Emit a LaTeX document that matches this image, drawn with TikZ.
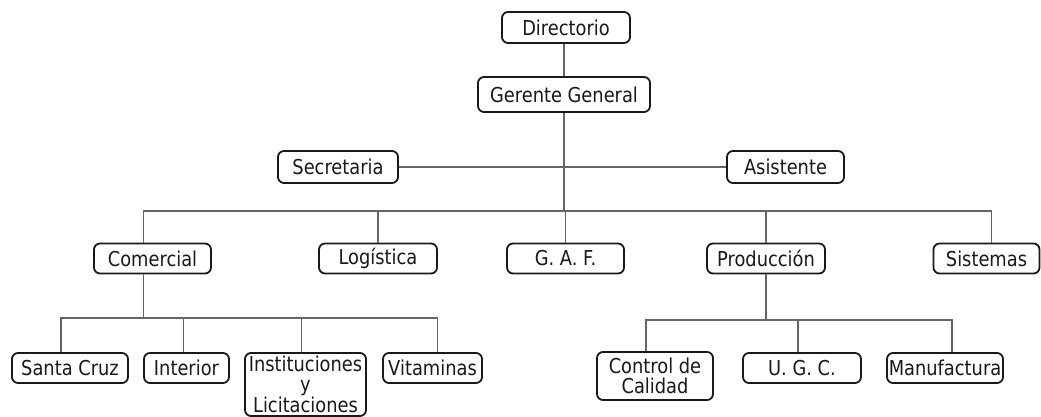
\documentclass[tikz,border=0pt]{standalone}
\usepackage{fontspec}
\setmainfont{DejaVu Sans}[FakeStretch=0.87]
\usetikzlibrary{positioning}

\begin{document}
\begin{tikzpicture}[x=1pt, y=-1pt,
  box/.style={draw=black!90, line width=1.8pt, rounded corners=6pt, fill=white, align=center, inner sep=0pt, minimum height=30pt, font=\fontsize{20.5}{19.5}\selectfont, text=black!90},
  conn/.style={draw=black!60, line width=1.2pt}
]
\useasboundingbox (0,0) rectangle (1041,417);

\node[box, minimum width=128pt, minimum height=31pt] (dir) at (566,27.5) {Directorio};
\node[box, minimum width=172pt, minimum height=35pt] (gg) at (564,94.5) {Gerente General};
\node[box, minimum width=120pt, minimum height=32pt] (sec) at (338,167) {Secretaria};
\node[box, minimum width=117pt, minimum height=32pt] (asi) at (785.5,167) {Asistente};

\node[box, minimum width=117pt] (com) at (152.5,258.5) {Comercial};
\node[box, minimum width=118pt] (log) at (378,258.5) {Logística};
\node[box, minimum width=117pt] (gaf) at (565.5,258.5) {G. A. F.};
\node[box, minimum width=118pt] (pro) at (766,258.5) {Producción};
\node[box, minimum width=106pt] (sis) at (986.5,258.5) {Sistemas};

\node[box, minimum width=116pt] (sc) at (70,368) {Santa Cruz};
\node[box, minimum width=85pt] (int) at (186.5,368) {Interior};
\node[box, minimum width=121pt, minimum height=63pt] (ins) at (305.5,384.5) {Instituciones\\y\\Licitaciones};
\node[box, minimum width=99pt] (vit) at (432.5,368) {Vitaminas};

\node[box, minimum width=116pt, minimum height=48pt] (cc) at (655,376) {Control de\\Calidad};
\node[box, minimum width=118pt] (ugc) at (802,368) {U. G. C.};
\node[box, minimum width=116pt] (man) at (945,368) {Manufactura};

\coordinate (bus) at (564,211);
\coordinate (cbus) at (143.5,318);
\coordinate (pbus) at (766,320);

\draw[conn] (gg.north |- dir.south) -- (gg.north);
\draw[conn] (sec.east) -- (asi.west);
\draw[conn] (gg.south) -- (bus);
\draw[conn] (bus) -| ([xshift=-9pt]com.north);
\draw[conn] (bus) -| (log.north);
\draw[conn] (bus) -| (gaf.north);
\draw[conn] (bus) -| (pro.north);
\draw[conn] (bus) -| ([xshift=5pt]sis.north);

\draw[conn] ([xshift=-9pt]com.south) -- (cbus);
\draw[conn] (cbus) -| ([xshift=-9pt]sc.north);
\draw[conn] (cbus) -| ([xshift=-3pt]int.north);
\draw[conn] (cbus) -| ([xshift=-4pt]ins.north);
\draw[conn] (cbus) -| ([xshift=5pt]vit.north);

\draw[conn] (pro.south) -- (pbus);
\draw[conn] (pbus) -| ([xshift=-9pt]cc.north);
\draw[conn] (pbus) -| ([xshift=-4pt]ugc.north);
\draw[conn] (pbus) -| ([xshift=7pt]man.north);

\end{tikzpicture}
\end{document}
